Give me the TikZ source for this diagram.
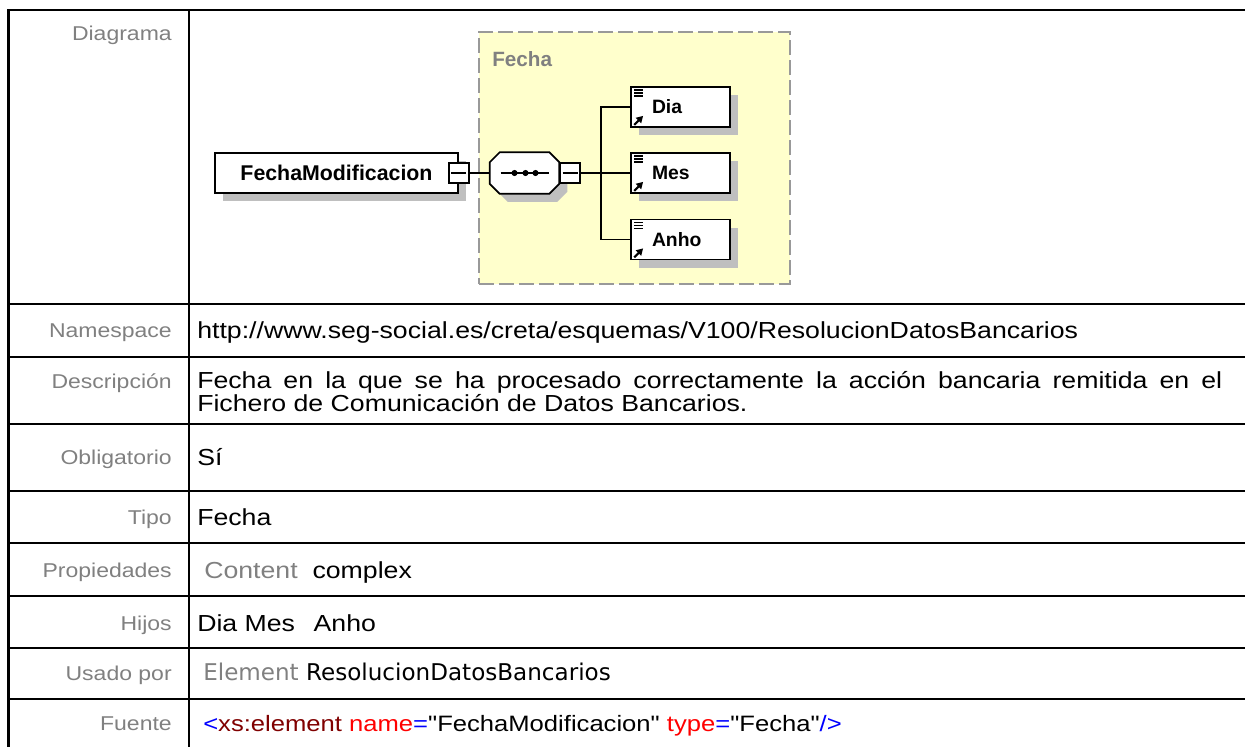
\documentclass[tikz,border=0pt]{standalone}
\usepackage{fontspec}
\setmainfont{Liberation Sans}
\newfontfamily\tablefont{Liberation Sans}[FakeStretch=1.15]
\newfontfamily\tahoma{DejaVu Sans}
\usetikzlibrary{shadows,arrows.meta}

\definecolor{labelgray}{HTML}{808080}
\definecolor{typeyellow}{HTML}{FFFFCC}
\definecolor{dashgray}{HTML}{999999}
\definecolor{xmlblue}{HTML}{0000FF}
\definecolor{xmlmaroon}{HTML}{800000}
\definecolor{xmlred}{HTML}{FF0000}

% octagon of the sequence compositor, shifted by #1,#2
\newcommand{\seqoutline}[2]{([shift={(#1+10,#2)}]seq.north west) -- ([shift={(#1-10,#2)}]seq.north east)
    -- ([shift={(#1,#2+10)}]seq.north east) -- ([shift={(#1,#2-10)}]seq.south east)
    -- ([shift={(#1-10,#2)}]seq.south east) -- ([shift={(#1+10,#2)}]seq.south west)
    -- ([shift={(#1,#2-10)}]seq.south west) -- ([shift={(#1,#2+10)}]seq.north west) -- cycle}

\tikzset{
    tableline/.style={line width=2pt, black},
    rowlabel/.style={anchor=base east, inner sep=0pt, text=labelgray, font=\tablefont\fontsize{15}{18}\selectfont},
    rowtext/.style={anchor=base west, inner sep=0pt, font=\tablefont\fontsize{17.4}{20}\selectfont},
    conn/.style={line width=1.3pt, black},
    boxshadow/.style={general shadow={fill=black!25, shadow xshift=6pt, shadow yshift=-6pt}},
    typebox/.style={draw=dashgray, line width=1.5pt, dash pattern=on 11pt off 4pt, fill=typeyellow,
        minimum width=233.25pt, minimum height=189pt, inner sep=0pt},
    rootbox/.style={draw, line width=1.3pt, fill=white, boxshadow, minimum width=182.25pt,
        minimum height=30pt, inner sep=0pt, font=\bfseries\fontsize{16}{18}\selectfont},
    elembox/.style={draw, line width=1.3pt, fill=white, boxshadow, minimum height=30pt,
        text width=42.75pt, inner xsep=15.75pt, inner ysep=0pt, align=left,
        font=\bfseries\fontsize{14.5}{16}\selectfont},
    seqbox/.style={minimum width=51.75pt, minimum height=30.75pt, inner sep=0pt},
    minusbox/.style={draw, line width=1.3pt, fill=white, minimum size=15pt, inner sep=0pt}
}

\begin{document}
\begin{tikzpicture}[x=0.75pt, y=-0.75pt]
    \useasboundingbox (0,0) rectangle (1245,747);

    % Table grid
    \foreach \y in {10,304,357,424,491,543,596,648,699} {
        \draw[tableline] (8.5,\y) -- (1245,\y);
    }
    \draw[tableline] (8.5,9) -- (8.5,747);
    \draw[tableline] (189,9) -- (189,747);

    % Row labels
    \foreach \lbl/\y in {Diagrama/40, Namespace/337.5, Descripción/388, Obligatorio/464.5,
        Tipo/524.5, Propiedades/577.5, Hijos/630.5, Usado por/680.5, Fuente/730.5} {
        \node[rowlabel] at (172,\y) {\lbl};
    }

    % Row contents
    \node[rowtext] (ns) at (197,338)
        {http://www.seg-social.es/creta/esquemas/V100/ResolucionDatosBancarios};
    \node[rowtext] (desc1) at (197,388)
        {\makebox[768.75pt][s]{Fecha en la que se ha procesado correctamente la acción bancaria remitida en el}};
    \node[rowtext] (desc2) at (197,411)
        {Fichero de Comunicación de Datos Bancarios.};
    \node[rowtext] (oblig) at (197,465) {Sí};
    \node[rowtext] (tipo) at (197,525) {Fecha};
    \node[rowtext] (props) at (204,578) {\textcolor{labelgray}{Content}\ \ complex};
    \node[rowtext] (hijos) at (197,631) {Dia Mes\hspace{0.8em}Anho};
    \node[rowtext, font=\tahoma\fontsize{17.3}{18}\selectfont] (usado) at (203,680.5)
        {\textcolor{labelgray}{Element} ResolucionDatosBancarios};
    \node[rowtext, font=\tablefont\fontsize{16.7}{20}\selectfont] (fuente) at (203,731)
        {\textcolor{xmlblue}{<}\textcolor{xmlmaroon}{xs:element}
        \textcolor{xmlred}{name}\textcolor{xmlblue}{=}"FechaModificacion"
        \textcolor{xmlred}{type}\textcolor{xmlblue}{=}"Fecha"\textcolor{xmlblue}{/>}};

    % Diagram
    \node[typebox] (fecha) at (634.5,158) {};
    \node[anchor=west, inner sep=0pt, text=labelgray, font=\bfseries\fontsize{15.5}{17}\selectfont]
        (fechalbl) at (492,59) {Fecha};

    \node[rootbox] (fm) at (336.5,173) {FechaModificacion};
    \node[minusbox] (fmminus) at (fm.east) {};

    \node[seqbox] (seq) at (524.5,173) {};
    \fill[black!25] \seqoutline{8}{8};
    \filldraw[fill=white, line width=1.3pt] \seqoutline{0}{0};
    \node[minusbox, anchor=west] (seqminus) at (seq.east) {};
    \draw[conn] ([xshift=-18pt]seq.center) -- ([xshift=18.5pt]seq.center);
    \foreach \dx in {-7.5,0.75,8.25} {
        \fill ([xshift=\dx pt]seq.center) circle (2.3pt);
    }

    \foreach \name/\txt/\y in {dia/Dia/107, mes/Mes/173, anho/Anho/239.5} {
        \node[elembox] (\name) at (680.5,\y) {\txt};
        % element icon
        \foreach \dy in {4,7,10} {
            \draw[line width=1pt] ([shift={(4,\dy)}]\name.north west) -- ++(9,0);
        }
        \draw[-{Triangle[length=5pt,width=5.5pt]}, line width=1.6pt]
            ([shift={(4,-3)}]\name.south west) -- ++(9,-9);
    }

    \foreach \m in {fmminus, seqminus} {
        \draw[line width=1.2pt] ([xshift=2.5pt]\m.west) -- ([xshift=-2.5pt]\m.east);
    }

    % Connectors
    \coordinate (branch) at (601,173);
    \draw[conn] (fmminus.east) -- (seq.west);
    \draw[conn] (seqminus.east) -- (mes.west);
    \draw[conn] (branch) |- (dia.west);
    \draw[conn] (branch) |- (anho.west);
\end{tikzpicture}
\end{document}
